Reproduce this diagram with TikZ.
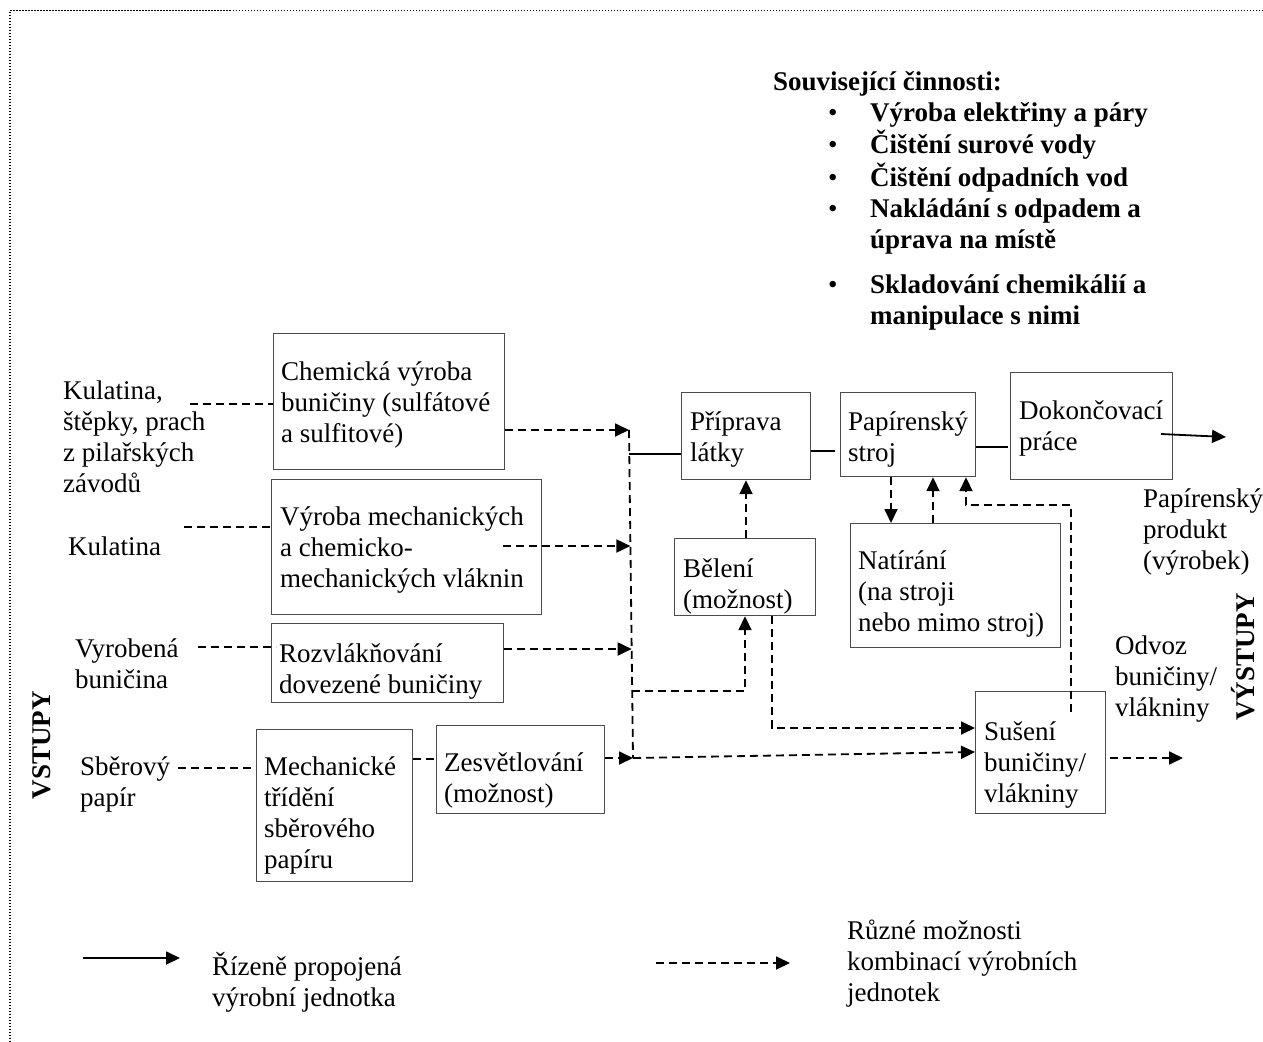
\documentclass[tikz,border=0pt]{standalone}
\usepackage{fontspec}
\setmainfont{Liberation Serif}
\usetikzlibrary{arrows.meta}
\newcommand\diagfont{\fontsize{27}{31}\selectfont}
\newcommand\blt{\makebox[97pt][l]{\hspace{55pt}\mdseries •}}
\tikzset{
  box/.style={draw=black!70, line width=1.2pt, inner sep=0pt, anchor=north west},
  txt/.style={inner sep=0pt, anchor=base west, align=left, font=\diagfont},
  % the base of a multi-line text is its last line: move it down by the extra lines
  ln/.style={yshift=-#1*31pt},
  dl/.style={line width=1.8pt, dash pattern=on 8pt off 5pt},
  sl/.style={line width=1.8pt},
  tip/.style={-{Triangle[length=14pt,width=13pt]}},
  side/.style={inner sep=0pt, rotate=90, font=\diagfont\bfseries},
}
\begin{document}
\begin{tikzpicture}[x=1pt,y=-1pt]
\useasboundingbox (0,0) rectangle (1263,1041);
% frame (dotted, top and left only)
\draw[line width=1.5pt, dash pattern=on 1.5pt off 1.5pt] (1263,10.5) -- (10,10.5) -- (10,1041);

% related activities
\node[txt, font=\diagfont\bfseries] (rel) at (773,90) {\begin{tabular}[t]{@{}l@{}l@{}}
\multicolumn{2}{@{}l@{}}{Související činnosti:}\\
\blt & Výroba elektřiny a páry\\
\blt & Čištění surové vody\\
\blt & Čištění odpadních vod\\
\blt & Nakládání s odpadem a\\
 & úprava na místě\\[14pt]
\blt & Skladování chemikálií a\\
 & manipulace s nimi
\end{tabular}};

% inputs
\node[txt, ln=3] (t1) at (63,399) {Kulatina,\\štěpky, prach\\z pilařských\\závodů};
\node[txt] (t2) at (68,555) {Kulatina};
\node[txt, ln=1] (t3) at (75,657) {Vyrobená\\buničina};
\node[txt, ln=1] (t4) at (80,775) {Sběrový\\papír};
\node[side] (vstupy) at (42,745) {VSTUPY};

% process units
\node[box, minimum width=231pt, minimum height=136pt] (chem) at (273,333) {};
\node[box, minimum width=270pt, minimum height=135pt] (mech) at (271,479) {};
\node[box, minimum width=232pt, minimum height=79pt]  (rozv) at (271,623) {};
\node[box, minimum width=156pt, minimum height=152pt] (trid) at (256,729) {};
\node[box, minimum width=168pt, minimum height=88pt]  (zesv) at (436,725) {};
\node[box, minimum width=129pt, minimum height=87pt]  (prip) at (681,392) {};
\node[box, minimum width=135pt, minimum height=84pt]  (papir) at (840,392) {};
\node[box, minimum width=162pt, minimum height=107pt] (dokon) at (1010,372) {};
\node[box, minimum width=141pt, minimum height=77pt]  (bel) at (674,538) {};
\node[box, minimum width=210pt, minimum height=124pt] (nat) at (850,523) {};
\node[box, minimum width=130pt, minimum height=122pt] (sus) at (975,691) {};

\node[txt, ln=2] (chemT) at (281,380) {Chemická výroba\\buničiny (sulfátové\\a sulfitové)};
\node[txt, ln=2] (mechT) at (280,525) {Výroba mechanických\\a chemicko-\\mechanických vláknin};
\node[txt, ln=1] (rozvT) at (279,662) {Rozvlákňování\\dovezené buničiny};
\node[txt, ln=3] (tridT) at (264,775) {Mechanické\\třídění\\sběrového\\papíru};
\node[txt, ln=1] (zesvT) at (444,771) {Zesvětlování\\(možnost)};
\node[txt, ln=1] (pripT) at (690,430) {Příprava\\látky};
\node[txt, ln=1] (papirT) at (848,430) {Papírenský\\stroj};
\node[txt, ln=1] (dokonT) at (1019,419) {Dokončovací\\práce};
\node[txt, ln=1] (belT) at (683,577) {Bělení\\(možnost)};
\node[txt, ln=2] (natT) at (858,569) {Natírání\\(na stroji\\nebo mimo stroj)};
\node[txt, ln=2] (susT) at (984,740) {Sušení\\buničiny/\\vlákniny};

% outputs
\node[txt, ln=2] (prodT) at (1143,507) {Papírenský\\produkt\\(výrobek)};
\node[txt, ln=2] (odvT) at (1115,654) {Odvoz\\buničiny/\\vlákniny};
\node[side] (vystupy) at (1243,657) {VÝSTUPY};

% junction points and free ends
\coordinate (busA) at (629,430);
\coordinate (busB) at (630.4,546);
\coordinate (busC) at (631.7,649);
\coordinate (busD) at (632.2,691);
\coordinate (busE) at (633,758);
\coordinate (busP) at (629.3,454);
\coordinate (src1) at (190,404);
\coordinate (src2) at (184,527);
\coordinate (src3) at (198,647);
\coordinate (src4) at (178,768);
\coordinate (mechout) at (503,546);
\coordinate (dokout) at (1161,434);
\coordinate (prod) at (1226,437);
\coordinate (susup) at (1071,712);
\coordinate (odv) at (1183,758);

% input feeds
\draw[dl] (src1) -- (chem.west |- src1);
\draw[dl] (src2) -- (mech.west |- src2);
\draw[dl] (src3) -- (276,647);
\draw[dl] (src4) -- (trid.west |- src4);

% pulp lines to the collecting line
\draw[dl,tip] (chem.east |- busA) -- (busA);
\draw[dl,tip] (mechout) -- (busB);
\draw[dl,tip] (rozv.east |- busC) -- (busC);
\draw[dl] (trid.east |- 0,759) -- (zesv.west |- 0,759);
\draw[dl,tip] (zesv.east |- busE) -- (busE);
\draw[dl] (busA) -- (busE);

% controlled line
\draw[sl] (busP) -- (prip.west |- busP);
\draw[sl] (prip.east |- 0,451) -- ([xshift=-5pt]papir.west |- 0,451);
\draw[sl] (papir.east |- 0,447) -- ([xshift=-2pt]dokon.west |- 0,447);
\draw[sl,tip] (dokout) -- (prod);

% optional routes
\draw[dl,tip] (busD) -| (745,0 |- bel.south);
\draw[dl,tip] (746,0 |- bel.north) -- (746,0 |- prip.south);
\draw[dl,tip] (891,0 |- papir.south) -- (891,0 |- nat.north);
\draw[dl,tip] (933,0 |- nat.north) -- (933,0 |- papir.south);
\draw[dl,tip] (susup) -- (1071,505) -| (966,0 |- papir.south);
\draw[dl,tip] (772,0 |- bel.south) |- (sus.west |- 0,728);
\draw[dl,tip] (busE) -- (sus.west |- 0,752);
\draw[dl,tip] (sus.east |- odv) ++(4,0) -- (odv);

% legend
\coordinate (lg1a) at (83,958);
\coordinate (lg1b) at (180,958);
\coordinate (lg2a) at (656,963);
\coordinate (lg2b) at (790,963);
\draw[sl,tip] (lg1a) -- (lg1b);
\draw[dl,tip] (lg2a) -- (lg2b);
\node[txt, ln=1] (lg1T) at (212,975) {Řízeně propojená\\výrobní jednotka};
\node[txt, ln=2] (lg2T) at (847,939) {Různé možnosti\\kombinací výrobních\\jednotek};
\end{tikzpicture}
\end{document}
